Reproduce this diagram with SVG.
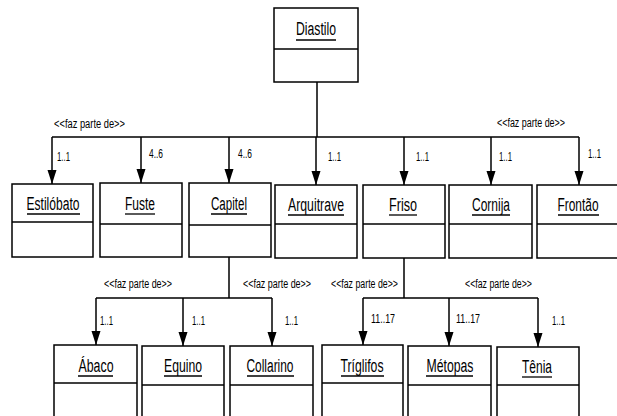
<svg xmlns="http://www.w3.org/2000/svg" width="617" height="416" viewBox="0 0 617 416">
<style>
.box{fill:#fff;stroke:#000;stroke-width:1.5}
.div{stroke:#000;stroke-width:1.5}
.ul{stroke:#000;stroke-width:1.3}
.name{font-family:"Liberation Sans",Arial,sans-serif;font-size:18px;fill:#000;text-anchor:middle}
.lbl{font-family:"Liberation Sans",Arial,sans-serif;font-size:12px;fill:#000}
.num{font-family:"Liberation Sans",Arial,sans-serif;font-size:12.5px;fill:#000}
.con{fill:none;stroke:#000;stroke-width:1.5}
</style>
<defs>
<marker id="arr" markerUnits="userSpaceOnUse" markerWidth="14" markerHeight="10" refX="14" refY="5" orient="auto">
<path d="M0,0.5 L14,5 L0,9.5 z" fill="#000"/>
</marker>
</defs>
<rect width="617" height="416" fill="#fff"/>
<g id="connectors">
<path class="con" d="M317,82 V137 M52,137 H579"/>
<path class="con" d="M52,137 V184" marker-end="url(#arr)"/>
<path class="con" d="M141,137 V183" marker-end="url(#arr)"/>
<path class="con" d="M229,137 V183" marker-end="url(#arr)"/>
<path class="con" d="M316,137 V185" marker-end="url(#arr)"/>
<path class="con" d="M404,137 V185" marker-end="url(#arr)"/>
<path class="con" d="M491,137 V185" marker-end="url(#arr)"/>
<path class="con" d="M579,137 V185" marker-end="url(#arr)"/>
<path class="con" d="M229,257 V298 M96,298 H272"/>
<path class="con" d="M96,298 V345" marker-end="url(#arr)"/>
<path class="con" d="M183,298 V346" marker-end="url(#arr)"/>
<path class="con" d="M272,298 V346" marker-end="url(#arr)"/>
<path class="con" d="M404,258 V298 M363,298 H538"/>
<path class="con" d="M363,298 V345" marker-end="url(#arr)"/>
<path class="con" d="M449,298 V346" marker-end="url(#arr)"/>
<path class="con" d="M538,298 V347" marker-end="url(#arr)"/>
<text class="lbl" x="54" y="128" textLength="71" lengthAdjust="spacingAndGlyphs">&lt;&lt;faz parte de&gt;&gt;</text>
<text class="lbl" x="497" y="127" textLength="68" lengthAdjust="spacingAndGlyphs">&lt;&lt;faz parte de&gt;&gt;</text>
<text class="lbl" x="104" y="288" textLength="68" lengthAdjust="spacingAndGlyphs">&lt;&lt;faz parte de&gt;&gt;</text>
<text class="lbl" x="243" y="288" textLength="68" lengthAdjust="spacingAndGlyphs">&lt;&lt;faz parte de&gt;&gt;</text>
<text class="lbl" x="331" y="288" textLength="67" lengthAdjust="spacingAndGlyphs">&lt;&lt;faz parte de&gt;&gt;</text>
<text class="lbl" x="465" y="288" textLength="67" lengthAdjust="spacingAndGlyphs">&lt;&lt;faz parte de&gt;&gt;</text>
<text class="num" x="57" y="161" textLength="13" lengthAdjust="spacingAndGlyphs">1..1</text>
<text class="num" x="149" y="158" textLength="14" lengthAdjust="spacingAndGlyphs">4..6</text>
<text class="num" x="238" y="158" textLength="14" lengthAdjust="spacingAndGlyphs">4..6</text>
<text class="num" x="328" y="161" textLength="13" lengthAdjust="spacingAndGlyphs">1..1</text>
<text class="num" x="416" y="161" textLength="13" lengthAdjust="spacingAndGlyphs">1..1</text>
<text class="num" x="499" y="161" textLength="13" lengthAdjust="spacingAndGlyphs">1..1</text>
<text class="num" x="588" y="158" textLength="13" lengthAdjust="spacingAndGlyphs">1..1</text>
<text class="num" x="100" y="325" textLength="13" lengthAdjust="spacingAndGlyphs">1..1</text>
<text class="num" x="192" y="325" textLength="13" lengthAdjust="spacingAndGlyphs">1..1</text>
<text class="num" x="285" y="325" textLength="13" lengthAdjust="spacingAndGlyphs">1..1</text>
<text class="num" x="371" y="323" textLength="24" lengthAdjust="spacingAndGlyphs">11..17</text>
<text class="num" x="456" y="323" textLength="24" lengthAdjust="spacingAndGlyphs">11..17</text>
<text class="num" x="552" y="325" textLength="13" lengthAdjust="spacingAndGlyphs">1..1</text>
</g>
<g id="diastilo"><rect class="box" x="274" y="8" width="84" height="74"/><line class="div" x1="274" y1="49" x2="358" y2="49"/><text class="name" x="316" y="35" textLength="40" lengthAdjust="spacingAndGlyphs">Diastilo</text><line class="ul" x1="296" y1="40" x2="336" y2="40"/></g>
<g id="estilobato"><rect class="box" x="12" y="184" width="81" height="73"/><line class="div" x1="12" y1="222" x2="93" y2="222"/><text class="name" x="53" y="210" textLength="53" lengthAdjust="spacingAndGlyphs">Estilóbato</text><line class="ul" x1="27" y1="214" x2="80" y2="214"/></g>
<g id="fuste"><rect class="box" x="100" y="183" width="82" height="74"/><line class="div" x1="100" y1="224" x2="182" y2="224"/><text class="name" x="140" y="210" textLength="30" lengthAdjust="spacingAndGlyphs">Fuste</text><line class="ul" x1="125" y1="214" x2="155" y2="214"/></g>
<g id="capitel"><rect class="box" x="189" y="183" width="82" height="74"/><line class="div" x1="189" y1="225" x2="271" y2="225"/><text class="name" x="229" y="210" textLength="36" lengthAdjust="spacingAndGlyphs">Capitel</text><line class="ul" x1="211" y1="214" x2="247" y2="214"/></g>
<g id="arquitrave"><rect class="box" x="275" y="185" width="82" height="73"/><line class="div" x1="275" y1="224" x2="357" y2="224"/><text class="name" x="316" y="211" textLength="56" lengthAdjust="spacingAndGlyphs">Arquitrave</text><line class="ul" x1="288" y1="215" x2="344" y2="215"/></g>
<g id="friso"><rect class="box" x="363" y="185" width="82" height="73"/><line class="div" x1="363" y1="224" x2="445" y2="224"/><text class="name" x="403" y="211" textLength="28" lengthAdjust="spacingAndGlyphs">Friso</text><line class="ul" x1="389" y1="215" x2="417" y2="215"/></g>
<g id="cornija"><rect class="box" x="449" y="185" width="83" height="73"/><line class="div" x1="449" y1="224" x2="532" y2="224"/><text class="name" x="491" y="211" textLength="38" lengthAdjust="spacingAndGlyphs">Cornija</text><line class="ul" x1="472" y1="215" x2="510" y2="215"/></g>
<g id="frontao"><rect class="box" x="537" y="185" width="82" height="73"/><line class="div" x1="537" y1="224" x2="619" y2="224"/><text class="name" x="578" y="211" textLength="41" lengthAdjust="spacingAndGlyphs">Frontão</text><line class="ul" x1="558" y1="215" x2="599" y2="215"/></g>
<g id="abaco"><rect class="box" x="54" y="345" width="83" height="80"/><line class="div" x1="54" y1="383" x2="137" y2="383"/><text class="name" x="96" y="372" textLength="35" lengthAdjust="spacingAndGlyphs">Ábaco</text><line class="ul" x1="78" y1="376" x2="113" y2="376"/></g>
<g id="equino"><rect class="box" x="142" y="346" width="82" height="80"/><line class="div" x1="142" y1="385" x2="224" y2="385"/><text class="name" x="183" y="372" textLength="38" lengthAdjust="spacingAndGlyphs">Equino</text><line class="ul" x1="164" y1="376" x2="202" y2="376"/></g>
<g id="collarino"><rect class="box" x="230" y="346" width="83" height="80"/><line class="div" x1="230" y1="385" x2="313" y2="385"/><text class="name" x="270" y="372" textLength="47" lengthAdjust="spacingAndGlyphs">Collarino</text><line class="ul" x1="247" y1="376" x2="294" y2="376"/></g>
<g id="triglifos"><rect class="box" x="322" y="345" width="81" height="80"/><line class="div" x1="322" y1="383" x2="403" y2="383"/><text class="name" x="362" y="372" textLength="43" lengthAdjust="spacingAndGlyphs">Tríglifos</text><line class="ul" x1="341" y1="376" x2="384" y2="376"/></g>
<g id="metopas"><rect class="box" x="408" y="346" width="83" height="80"/><line class="div" x1="408" y1="385" x2="491" y2="385"/><text class="name" x="450" y="372" textLength="47" lengthAdjust="spacingAndGlyphs">Métopas</text><line class="ul" x1="426" y1="376" x2="473" y2="376"/></g>
<g id="tenia"><rect class="box" x="497" y="347" width="82" height="80"/><line class="div" x1="497" y1="385" x2="579" y2="385"/><text class="name" x="537" y="373" textLength="30" lengthAdjust="spacingAndGlyphs">Tênia</text><line class="ul" x1="522" y1="377" x2="552" y2="377"/></g>
</svg>
